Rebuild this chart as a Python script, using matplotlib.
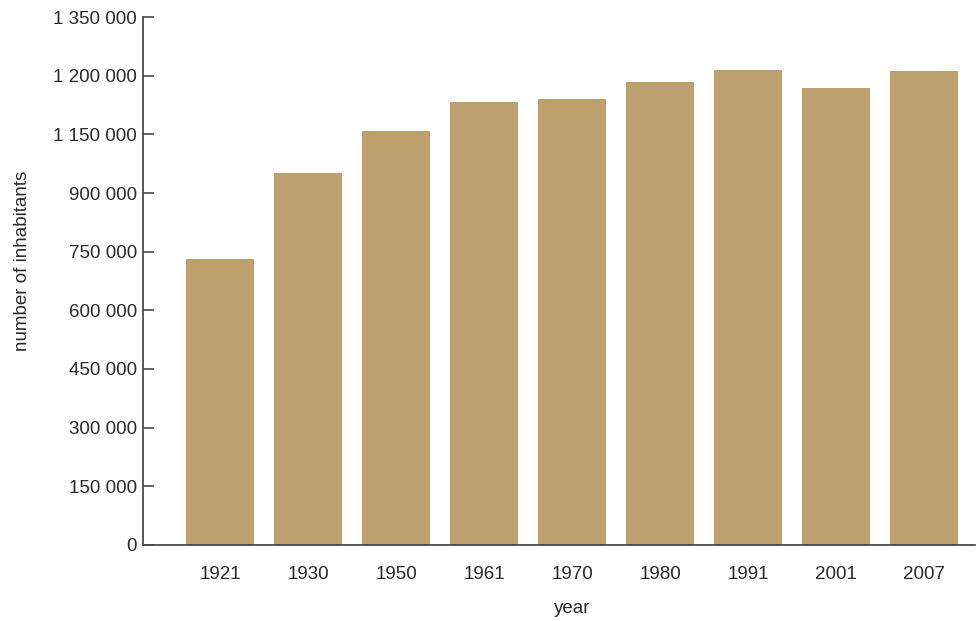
import matplotlib.pyplot as plt
import numpy as np

years = ['1921', '1930', '1950', '1961', '1970', '1980', '1991', '2001', '2007']
inhabitants = [731000, 951000, 1058000, 1132000, 1140000, 1183000, 1214000, 1168000, 1211000]

yticks = [0, 150000, 300000, 450000, 600000, 750000, 900000, 1050000, 1200000, 1350000]
ytick_labels = ['0', '150 000', '300 000', '450 000', '600 000', '750 000',
                '900 000', '1 150 000', '1 200 000', '1 350 000']

plt.rcParams['font.family'] = ['Liberation Sans', 'DejaVu Sans']

fig = plt.figure(figsize=(9.77, 6.21), dpi=100)
ax = fig.add_axes([0.1464, 0.1224, 0.8516, 0.8502])

x = np.arange(len(years))
ax.bar(x, inhabitants, width=0.77, color='#bca06e')

ax.set_xlim(-0.875, 8.58)
ax.set_ylim(0, 1350000)
ax.set_xticks(x)
ax.set_xticklabels(years)
ax.set_yticks(yticks)
ax.set_yticklabels(ytick_labels)

for side in ['top', 'right']:
    ax.spines[side].set_visible(False)
for side in ['left', 'bottom']:
    ax.spines[side].set_color('#4a4a4a')
    ax.spines[side].set_linewidth(1.3)

txt = '#2a2a2a'
ax.tick_params(axis='x', length=0, pad=15, labelsize=13.5, labelcolor=txt)
ax.tick_params(axis='y', direction='in', length=8, width=1.2, color='#4a4a4a',
               pad=4.5, labelsize=13.5, labelcolor=txt)

ax.set_xlabel('year', fontsize=13.5, color=txt)
ax.xaxis.set_label_coords(0.516, -0.105)
ax.set_ylabel('number of inhabitants', fontsize=13.5, color=txt)
ax.yaxis.set_label_coords(-0.135, 0.538)

fig.savefig('out.png', dpi=100)
